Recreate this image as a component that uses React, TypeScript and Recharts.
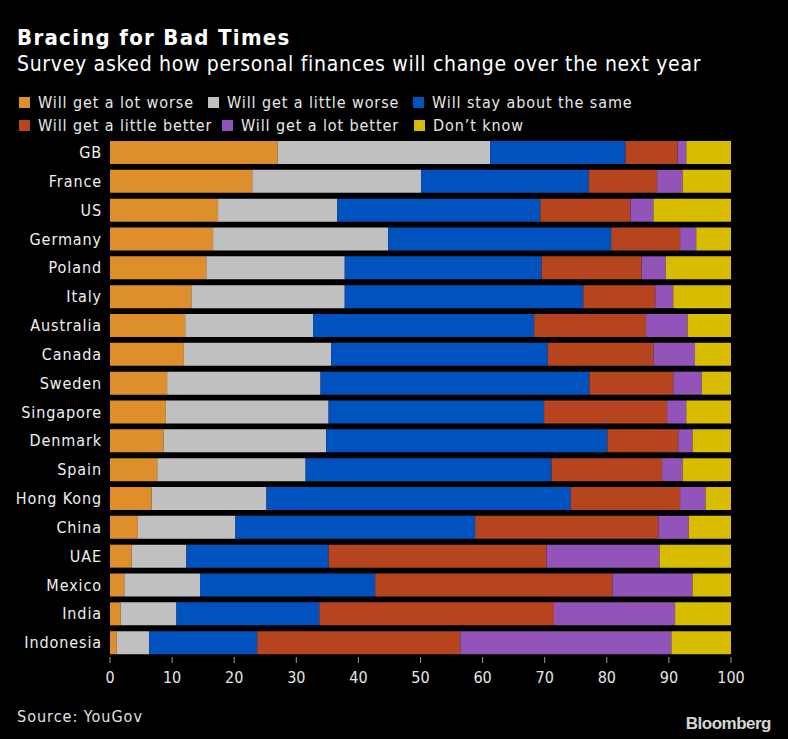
import React from "react";
import { BarChart, Bar, XAxis, YAxis } from "recharts";

const countries = [
  "GB", "France", "US", "Germany", "Poland", "Italy", "Australia", "Canada", "Sweden",
  "Singapore", "Denmark", "Spain", "Hong Kong", "China", "UAE", "Mexico", "India", "Indonesia",
];

const lotWorse = [27.0, 22.9, 17.4, 16.6, 15.5, 13.1, 12.1, 11.9, 9.2, 9.0, 8.6, 7.6, 6.7, 4.5, 3.5, 2.3, 1.7, 1.1];
const littleWorse = [34.2, 27.2, 19.2, 28.2, 22.3, 24.7, 20.6, 23.7, 24.7, 26.2, 26.2, 23.9, 18.5, 15.7, 8.8, 12.2, 9.0, 5.2];
const same = [21.8, 27.0, 32.7, 35.9, 31.7, 38.4, 35.6, 34.9, 43.3, 34.7, 45.3, 39.6, 49.0, 38.6, 22.9, 28.2, 23.0, 17.4];
const littleBetter = [8.4, 11.0, 14.5, 11.1, 16.1, 11.6, 18.0, 17.0, 13.5, 19.8, 11.4, 17.8, 17.6, 29.5, 35.1, 38.2, 37.8, 32.7];
const lotBetter = [1.4, 4.1, 3.7, 2.6, 3.9, 2.9, 6.7, 6.7, 4.6, 3.1, 2.3, 3.3, 4.1, 4.9, 18.2, 12.9, 19.5, 34.0];
const dontKnow = [7.2, 7.8, 12.5, 5.6, 10.5, 9.3, 7.0, 5.8, 4.7, 7.2, 6.2, 7.8, 4.1, 6.8, 11.5, 6.2, 9.0, 9.6];

const seriesNames = [
  "Will get a lot worse",
  "Will get a little worse",
  "Will stay about the same",
  "Will get a little better",
  "Will get a lot better",
  "Don\u2019t know",
];
const seriesKeys = ["lotWorse", "littleWorse", "same", "littleBetter", "lotBetter", "dontKnow"];
const seriesColors = ["#DE8F2B", "#C0C0C0", "#0052BF", "#B5441F", "#9254B9", "#D8BC00"];
const xTicks = [0, 10, 20, 30, 40, 50, 60, 70, 80, 90, 100];

const data = countries.map((c, i) => ({
  country: c,
  lotWorse: lotWorse[i],
  littleWorse: littleWorse[i],
  same: same[i],
  littleBetter: littleBetter[i],
  lotBetter: lotBetter[i],
  dontKnow: dontKnow[i],
}));

const FONT = "'DejaVu Sans Condensed', 'DejaVu Sans', sans-serif";

const legendPos = [
  { left: 19, top: 93 },
  { left: 208, top: 93 },
  { left: 413, top: 93 },
  { left: 19, top: 116 },
  { left: 222, top: 116 },
  { left: 414, top: 116 },
];

export default function App() {
  return (
    <div
      style={{
        position: "absolute",
        left: 0,
        top: 0,
        width: 788,
        height: 739,
        background: "#000",
        fontFamily: FONT,
        color: "#fff",
        overflow: "hidden",
      }}
    >
      <div style={{ position: "absolute", left: 17, top: 25, fontSize: 22, fontWeight: "bold", color: "#fff", letterSpacing: 1.3 }}>
        Bracing for Bad Times
      </div>
      <div style={{ position: "absolute", left: 17, top: 52, fontSize: 21, color: "#fff", letterSpacing: 0.7 }}>
        Survey asked how personal finances will change over the next year
      </div>
      {seriesNames.map((name, i) => (
        <div
          key={name}
          style={{
            position: "absolute",
            left: legendPos[i].left,
            top: legendPos[i].top,
            display: "flex",
            alignItems: "center",
            fontSize: 16,
            color: "#e8e8e8",
            whiteSpace: "nowrap",
            letterSpacing: 0.9,
          }}
        >
          <span style={{ display: "inline-block", width: 11, height: 11, background: seriesColors[i], marginRight: 8 }} />
          <span>{name}</span>
        </div>
      ))}
      <div style={{ position: "absolute", left: 0, top: 0 }}>
        <BarChart
          width={788}
          height={700}
          data={data}
          layout="vertical"
          margin={{ top: 138, right: 57, left: 0, bottom: 13 }}
          barCategoryGap={3}
        >
          <XAxis
            type="number"
            domain={[0, 100]}
            ticks={xTicks}
            axisLine={false}
            tickLine={{ stroke: "#9a9a9a" }}
            tickSize={6}
            tickMargin={9}
            height={30}
            tick={{ fill: "#e6e6e6", fontSize: 16, fontFamily: FONT }}
            interval={0}
          />
          <YAxis
            type="category"
            dataKey="country"
            width={110}
            axisLine={false}
            tickLine={false}
            tick={{ fill: "#f0f0f0", fontSize: 16, fontFamily: FONT, letterSpacing: 0.9 }}
            interval={0}
          />
          {seriesKeys.map((k, i) => (
            <Bar key={k} dataKey={k} name={seriesNames[i]} stackId="a" fill={seriesColors[i]} isAnimationActive={false} />
          ))}
        </BarChart>
      </div>
      <div style={{ position: "absolute", left: 17, top: 707, fontSize: 16, color: "#e0e0e0", letterSpacing: 1 }}>Source: YouGov</div>
      <div
        style={{
          position: "absolute",
          right: 17,
          top: 714,
          fontSize: 17,
          fontWeight: "bold",
          color: "#d6d6d6",
          fontFamily: "'Liberation Sans', Arial, sans-serif",
          letterSpacing: -0.5,
        }}
      >
        Bloomberg
      </div>
    </div>
  );
}
